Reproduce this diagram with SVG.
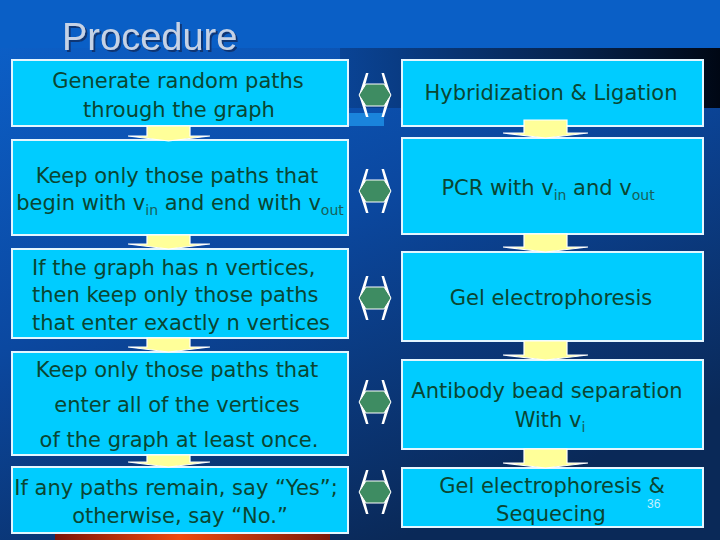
<svg xmlns="http://www.w3.org/2000/svg" width="720" height="540" viewBox="0 0 720 540">
  <defs>
    <linearGradient id="bg" x1="0" y1="0" x2="0.55" y2="1">
      <stop offset="0" stop-color="#0c62cc"/>
      <stop offset="0.5" stop-color="#0b48a0"/>
      <stop offset="1" stop-color="#0a2958"/>
    </linearGradient>
    <linearGradient id="band" x1="0" y1="0" x2="1" y2="0">
      <stop offset="0" stop-color="#0a4496"/>
      <stop offset="0.6" stop-color="#06244f"/>
      <stop offset="1" stop-color="#000714"/>
    </linearGradient>
    <linearGradient id="red" x1="0" y1="0" x2="1" y2="0">
      <stop offset="0" stop-color="#7a1408"/>
      <stop offset="0.45" stop-color="#f04a10"/>
      <stop offset="1" stop-color="#7a1a0a"/>
    </linearGradient>
    <filter id="shadow" x="-5%" y="-20%" width="115%" height="150%">
      <feDropShadow dx="2" dy="2" stdDeviation="0.6" flood-color="#0a2d66" flood-opacity="0.85"/>
    </filter>
    <style>
      .box { fill:#00ccff; stroke:#e4f6ff; stroke-width:2; }
      .t { font-family:"DejaVu Sans", Verdana, sans-serif; font-size:21px; fill:#0a4632; }
      .m { text-anchor:middle; }
      .sub { font-size:14px; fill:#17605a; }
      .yarr { fill:#ffff99; stroke:#ffffff; stroke-width:1.2; }
      .dhead { fill:#ffffff; }
      .dbody { fill:#3e8c62; stroke:#ffffff; stroke-width:1; }
    </style>
  </defs>

  <!-- background -->
  <rect x="0" y="0" width="720" height="540" fill="url(#bg)"/>
  <rect x="0" y="0" width="720" height="48" fill="#0a5fc6"/>
  <rect x="340" y="48" width="380" height="60" fill="url(#band)"/>
  <rect x="348" y="113" width="36" height="13" fill="#1a84dc"/>
  <rect x="55" y="533" width="275" height="7" fill="url(#red)"/>

  <!-- title -->
  <g id="title">
    <text x="62" y="50" font-family="'Liberation Sans', Arial, sans-serif" font-size="38" fill="#c5d2e6" filter="url(#shadow)">Procedure</text>
  </g>

  <!-- left column -->
  <g id="L1">
    <rect class="box" x="12" y="60" width="336" height="66"/>
    <text class="t m" x="178" y="88">Generate random paths</text>
    <text class="t m" x="179" y="117">through the graph</text>
  </g>
  <g id="L2">
    <rect class="box" x="12" y="140" width="336" height="95"/>
    <text class="t m" x="177" y="183">Keep only those paths that</text>
    <text class="t m" x="180" y="210">begin with v<tspan class="sub" dy="5">in</tspan><tspan dy="-5"> and end with v</tspan><tspan class="sub" dy="5">out</tspan></text>
  </g>
  <g id="L3">
    <rect class="box" x="12" y="249" width="336" height="89"/>
    <text class="t" x="32" y="275">If the graph has n vertices,</text>
    <text class="t" x="32" y="302">then keep only those paths</text>
    <text class="t" x="32" y="330">that enter exactly n vertices</text>
  </g>
  <g id="L4">
    <rect class="box" x="12" y="352" width="336" height="103"/>
    <text class="t m" x="177" y="377">Keep only those paths that</text>
    <text class="t m" x="177" y="412">enter all of the vertices</text>
    <text class="t m" x="179" y="447">of the graph at least once.</text>
  </g>
  <g id="L5">
    <rect class="box" x="12" y="467" width="336" height="66"/>
    <text class="t m" x="176" y="495">If any paths remain, say “Yes”;</text>
    <text class="t m" x="180" y="523">otherwise, say “No.”</text>
  </g>

  <!-- right column -->
  <g id="R1">
    <rect class="box" x="402" y="60" width="301" height="66"/>
    <text class="t m" x="551" y="100">Hybridization &amp; Ligation</text>
  </g>
  <g id="R2">
    <rect class="box" x="402" y="138" width="301" height="96"/>
    <text class="t m" x="548" y="195">PCR with v<tspan class="sub" dy="5">in</tspan><tspan dy="-5"> and v</tspan><tspan class="sub" dy="5">out</tspan></text>
  </g>
  <g id="R3">
    <rect class="box" x="402" y="252" width="301" height="89"/>
    <text class="t m" x="551" y="305">Gel electrophoresis</text>
  </g>
  <g id="R4">
    <rect class="box" x="402" y="360" width="301" height="89"/>
    <text class="t m" x="547" y="398">Antibody bead separation</text>
    <text class="t m" x="550" y="427">With v<tspan class="sub" dy="5">i</tspan></text>
  </g>
  <g id="R5">
    <rect class="box" x="402" y="468" width="301" height="59"/>
    <text class="t m" x="552" y="493">Gel electrophoresis &amp;</text>
    <text class="t m" x="551" y="521">Sequecing</text>
    <text x="647" y="508" font-family="'Liberation Sans', Arial, sans-serif" font-size="12" fill="#c4f0ff">36</text>
  </g>

  <!-- connectors -->
  <g id="connectors">
    <path class="yarr" d="M147,126 H190 V136 H210 L168.5,141 L128,136 H147 Z"/>
    <path class="yarr" d="M147,235 H190 V244 H210 L168.5,249 L128,244 H147 Z"/>
    <path class="yarr" d="M147,338 H190 V347 H210 L168.5,352 L128,347 H147 Z"/>
    <path class="yarr" d="M147,455 H190 V462 H210 L168.5,467 L128,462 H147 Z"/>

    <path class="yarr" d="M524,120 H567 V133 H588 L545.5,138 L503,133 H524 Z"/>
    <path class="yarr" d="M524,234 H567 V247 H588 L545.5,252 L503,247 H524 Z"/>
    <path class="yarr" d="M524,341 H567 V355 H588 L545.5,360 L503,355 H524 Z"/>
    <path class="yarr" d="M524,449 H567 V463 H588 L545.5,468 L503,463 H524 Z"/>

    <g transform="translate(0,95)">
      <polygon class="dhead" points="366,-22 359,0 366,22 368.5,22 362.5,0 368.5,-22"/>
      <polygon class="dhead" points="384,-22 391,0 384,22 381.5,22 387.5,0 381.5,-22"/>
      <polygon class="dbody" points="359,0 366,-11 384,-11 391,0 384,11 366,11"/>
    </g>
    <g transform="translate(0,191)">
      <polygon class="dhead" points="366,-22 359,0 366,22 368.5,22 362.5,0 368.5,-22"/>
      <polygon class="dhead" points="384,-22 391,0 384,22 381.5,22 387.5,0 381.5,-22"/>
      <polygon class="dbody" points="359,0 366,-11 384,-11 391,0 384,11 366,11"/>
    </g>
    <g transform="translate(0,298)">
      <polygon class="dhead" points="366,-22 359,0 366,22 368.5,22 362.5,0 368.5,-22"/>
      <polygon class="dhead" points="384,-22 391,0 384,22 381.5,22 387.5,0 381.5,-22"/>
      <polygon class="dbody" points="359,0 366,-11 384,-11 391,0 384,11 366,11"/>
    </g>
    <g transform="translate(0,402)">
      <polygon class="dhead" points="366,-22 359,0 366,22 368.5,22 362.5,0 368.5,-22"/>
      <polygon class="dhead" points="384,-22 391,0 384,22 381.5,22 387.5,0 381.5,-22"/>
      <polygon class="dbody" points="359,0 366,-11 384,-11 391,0 384,11 366,11"/>
    </g>
    <g transform="translate(0,492)">
      <polygon class="dhead" points="366,-22 359,0 366,22 368.5,22 362.5,0 368.5,-22"/>
      <polygon class="dhead" points="384,-22 391,0 384,22 381.5,22 387.5,0 381.5,-22"/>
      <polygon class="dbody" points="359,0 366,-11 384,-11 391,0 384,11 366,11"/>
    </g>
  </g>
</svg>
